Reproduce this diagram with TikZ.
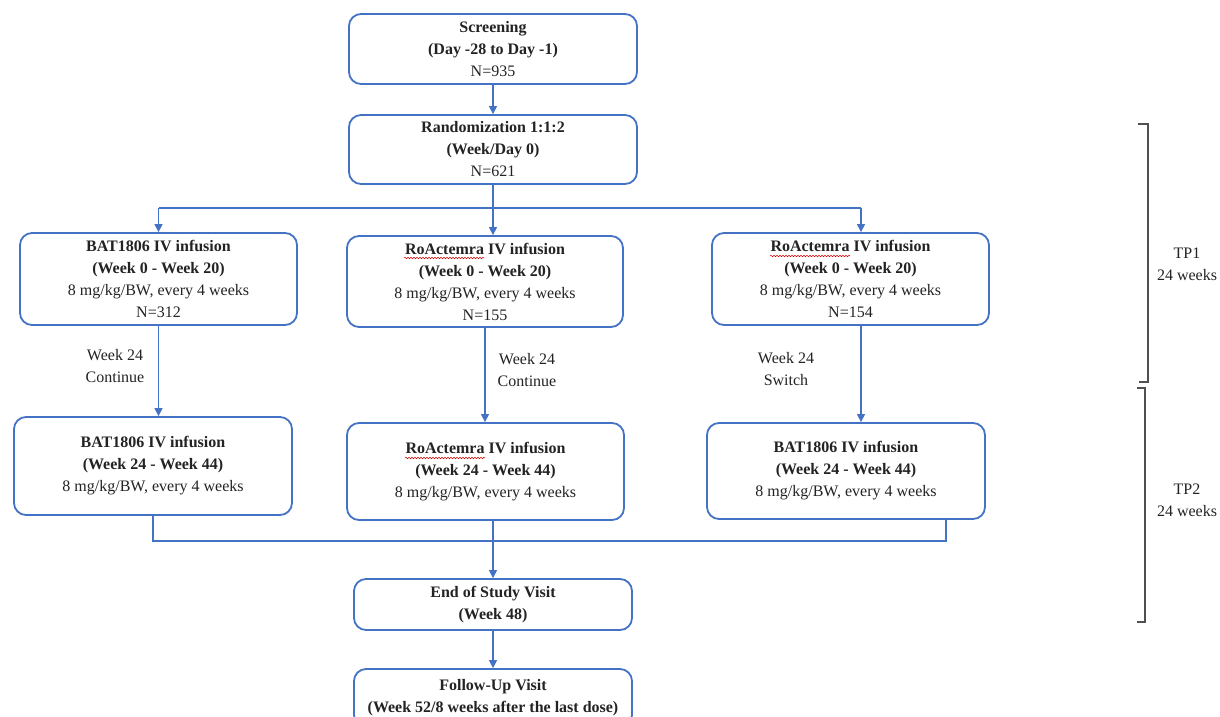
\documentclass[tikz,border=0pt]{standalone}
\usepackage{fontspec}
\setmainfont{Liberation Serif}[BoldFont={Liberation Serif Bold}]
\usetikzlibrary{arrows.meta,decorations.pathmorphing}
\definecolor{boxblue}{RGB}{68,114,196}
\definecolor{txt}{RGB}{35,35,35}
\definecolor{brk}{RGB}{80,80,80}
\tikzset{
  box/.style={draw=boxblue, line width=1.8pt, rounded corners=12pt, inner sep=0pt,
    align=center, text=txt, font=\fontsize{16}{22}\selectfont},
  lbl/.style={align=center, text=txt, inner sep=0pt, font=\fontsize{16}{22}\selectfont},
  conn/.style={draw=boxblue, line width=1.3pt},
  arr/.style={conn, -{Triangle[length=8pt,width=8pt]}},
  brack/.style={draw=brk, line width=1.4pt},
  squig/.style={draw=red!85!black, line width=0.5pt, decorate,
    decoration={snake, amplitude=0.7pt, segment length=3pt}}
}
\begin{document}
\begin{tikzpicture}[x=1pt,y=-1pt]
\useasboundingbox (0,0) rectangle (1220,717);
\clip (0,0) rectangle (1220,717);
\fill[white] (0,0) rectangle (1220,717);

% boxes
\node[box, minimum width=288, minimum height=70] (scr) at (493,49)
  {\textbf{Screening}\\\textbf{(Day -28 to Day -1)}\\N=935};
\node[box, minimum width=288, minimum height=69] (rand) at (493,149.5)
  {\textbf{Randomization 1:1:2}\\\textbf{(Week/Day 0)}\\N=621};

\node[box, minimum width=277, minimum height=92] (a1) at (158.5,279)
  {\textbf{BAT1806 IV infusion}\\\textbf{(Week 0 - Week 20)}\\8 mg/kg/BW, every 4 weeks\\N=312};
\node[box, minimum width=276, minimum height=91] (b1) at (485,281.5)
  {\textbf{RoActemra IV infusion}\\\textbf{(Week 0 - Week 20)}\\8 mg/kg/BW, every 4 weeks\\N=155};
\node[box, minimum width=277, minimum height=92] (c1) at (850.5,279)
  {\textbf{RoActemra IV infusion}\\\textbf{(Week 0 - Week 20)}\\8 mg/kg/BW, every 4 weeks\\N=154};

\node[box, minimum width=278, minimum height=98] (a2) at (153,466)
  {\textbf{BAT1806 IV infusion}\\\textbf{(Week 24 - Week 44)}\\8 mg/kg/BW, every 4 weeks};
\node[box, minimum width=277, minimum height=97] (b2) at (485.5,471.5)
  {\textbf{RoActemra IV infusion}\\\textbf{(Week 24 - Week 44)}\\8 mg/kg/BW, every 4 weeks};
\node[box, minimum width=278, minimum height=96] (c2) at (846,471)
  {\textbf{BAT1806 IV infusion}\\\textbf{(Week 24 - Week 44)}\\8 mg/kg/BW, every 4 weeks};

\node[box, minimum width=278, minimum height=51] (eos) at (493,604.5)
  {\textbf{End of Study Visit}\\\textbf{(Week 48)}};
\node[box, minimum width=278, minimum height=58] (fu) at (493,698)
  {\textbf{Follow-Up Visit}\\\textbf{(Week 52/8 weeks after the last dose)}};

% spell-check squiggles
\draw[squig] (404,258) -- (484,258);
\draw[squig] (770,256) -- (850,256);
\draw[squig] (405,458) -- (485,458);

% labels
\node[lbl] (la) at (115,366) {Week 24\\Continue};
\node[lbl] (lb) at (527,370) {Week 24\\Continue};
\node[lbl] (lc) at (786,369) {Week 24\\Switch};

% connectors
\draw[arr] (scr.south) -- (rand.north);
\coordinate (j) at (493,208);
\coordinate (jl) at (158.5,208);
\coordinate (jr) at (861,208);
\draw[conn] (rand.south) -- (j);
\draw[conn] (jl) -- (jr);
\draw[arr] (jl) -- (a1.north);
\draw[arr] (j) -- (j |- b1.north);
\draw[arr] (jr) -- (jr |- c1.north);

\draw[arr] (a1.south) -- (a1.south |- a2.north);
\draw[arr] (b1.south) -- (b1.south |- b2.north);
\draw[arr] (jr |- c1.south) -- (jr |- c2.north);

\coordinate (ml) at (153,541);
\coordinate (mj) at (493,541);
\coordinate (mr) at (946,541);
\draw[conn] (a2.south) -- (ml) -- (mr) -- (mr |- c2.south);
\draw[conn] (mj |- b2.south) -- (mj);
\draw[arr] (mj) -- (eos.north);
\draw[arr] (eos.south) -- (fu.north);

% brackets
\coordinate (t1a) at (1138,124);
\coordinate (t1b) at (1148,124);
\coordinate (t1c) at (1148,382);
\coordinate (t1d) at (1139,382);
\draw[brack] (t1a) -- (t1b) -- (t1c) -- (t1d);
\coordinate (t2a) at (1137,388);
\coordinate (t2b) at (1145,388);
\coordinate (t2c) at (1145,622);
\coordinate (t2d) at (1137,622);
\draw[brack] (t2a) -- (t2b) -- (t2c) -- (t2d);
\node[lbl] (tp1) at (1187,264) {TP1\\24 weeks};
\node[lbl] (tp2) at (1187,500) {TP2\\24 weeks};
\end{tikzpicture}
\end{document}
